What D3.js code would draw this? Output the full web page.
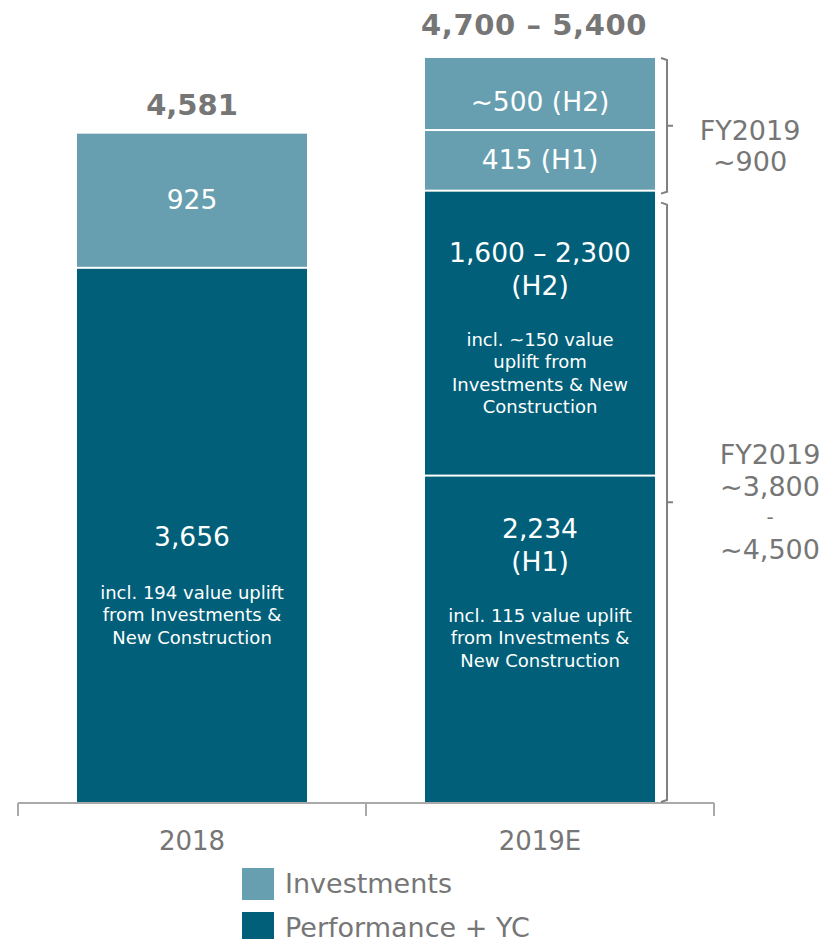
<!DOCTYPE html>
<html>
<head>
<meta charset="utf-8">
<script src="https://cdn.jsdelivr.net/npm/d3@7"></script>
<style>
  body { margin: 0; background: #fff; }
  svg { display: block; font-family: "DejaVu Sans", Verdana, sans-serif; }
</style>
</head>
<body>
<div id="chart"></div>
<script>
// Categories and stacked segments (bottom to top)
const years = ["2018", "2019E"];
const series = ["Investments", "Performance + YC"];

const segments2018 = [
  { key: "perf", value: 3656, label: ["3,656"], note: ["incl. 194 value uplift", "from Investments &", "New Construction"] },
  { key: "inv", value: 925, label: ["925"], note: [] }
];
const segments2019 = [
  { key: "perf", value: 2234, label: ["2,234", "(H1)"], note: ["incl. 115 value uplift", "from Investments &", "New Construction"] },
  { key: "perf", value: 1950, label: ["1,600 – 2,300", "(H2)"], note: ["incl. ~150 value", "uplift from", "Investments & New", "Construction"] },
  { key: "inv", value: 415, label: ["415 (H1)"], note: [] },
  { key: "inv", value: 500, label: ["~500 (H2)"], note: [] }
];
const totals = ["4,581", "4,700 – 5,400"];
const bracketLabels = [["FY2019", "~900"], ["FY2019", "~3,800", "-", "~4,500"]];

const colors = { inv: "#679fb0", perf: "#015f79" };
const grey = "#767676";

const width = 821, height = 939;
const svg = d3.select("#chart").append("svg")
  .attr("width", width)
  .attr("height", height);

const x = d3.scaleBand()
  .domain(years)
  .range([18, 714])
  .paddingInner(0.339)
  .paddingOuter(0.1695);

const y = d3.scaleLinear()
  .domain([0, 5400])
  .range([802, 13]);

// stack segments
function stack(segs) {
  let acc = 0;
  return segs.map(s => {
    const d = { ...s, y0: acc, y1: acc + s.value };
    acc += s.value;
    return d;
  });
}
const stacks = [stack(segments2018), stack(segments2019)];

// where the first label line sits inside each segment
function labelBaseline(d, top, bot) {
  if (d.note.length === 0) return (top + bot) / 2 + (d.value === 500 ? 17 : 9);
  if (d.value === 3656) return (top + bot) / 2 + 11;
  if (d.value === 1950) return top + 71;
  return top + 62;
}

stacks.forEach((segs, i) => {
  const year = years[i];
  const cx = x(year) + x.bandwidth() / 2;
  const g = svg.append("g");

  g.selectAll("rect")
    .data(segs)
    .join("rect")
    .attr("x", x(year))
    .attr("width", x.bandwidth())
    .attr("y", d => y(d.y1) + 1)
    .attr("height", d => y(d.y0) - y(d.y1) - (d.y0 === 0 ? 1 : 2))
    .attr("fill", d => colors[d.key]);

  segs.forEach(d => {
    const labelY = labelBaseline(d, y(d.y1), y(d.y0));
    d.label.forEach((t, j) => {
      g.append("text")
        .attr("x", cx)
        .attr("y", labelY + j * 33)
        .attr("text-anchor", "middle")
        .attr("fill", "#fff")
        .attr("font-size", 26.5)
        .text(t);
    });
    const noteStart = labelY + (d.label.length - 1) * 33 + (d.label.length > 1 ? 51 : 53);
    d.note.forEach((t, j) => {
      g.append("text")
        .attr("x", cx)
        .attr("y", noteStart + j * 22.5)
        .attr("text-anchor", "middle")
        .attr("fill", "#fff")
        .attr("font-size", 18)
        .text(t);
    });
  });

  // total label
  const total = d3.sum(segs, d => d.value);
  svg.append("text")
    .attr("x", cx - (i === 1 ? 6 : 0))
    .attr("y", y(total) - (i === 1 ? 22 : 18))
    .attr("text-anchor", "middle")
    .attr("fill", grey)
    .attr("font-weight", "bold")
    .attr("font-size", 29)
    .attr("letter-spacing", i === 1 ? 0.6 : 0)
    .text(totals[i]);
});

// Axis
const axis = svg.append("g")
  .attr("transform", `translate(0,${y(0)})`)
  .call(d3.axisBottom(x).tickSize(0).tickFormat(d => d));
axis.select(".domain").remove();
axis.selectAll("text")
  .attr("font-size", 26)
  .attr("font-family", "DejaVu Sans, sans-serif")
  .attr("fill", grey)
  .attr("dy", 0)
  .attr("y", 48);
const [r0, r1] = x.range();
const axisLine = svg.append("g").attr("stroke", "#a9a9a9").attr("stroke-width", 2).attr("fill", "none");
axisLine.append("line").attr("x1", r0).attr("x2", r1).attr("y1", y(0) + 1).attr("y2", y(0) + 1);
[r0, (r0 + r1) / 2, r1].forEach(t => {
  axisLine.append("line").attr("x1", t).attr("x2", t).attr("y1", y(0) + 1).attr("y2", y(0) + 14);
});

// Brackets for 2019E
const s19 = stacks[1];
const perfTop = s19[1].y1, stackTop = s19[3].y1;
const bx = x("2019E") + x.bandwidth();
function bracket(yTop, yBot) {
  const xm = bx + 12, hook = 6, tick = 6;
  const ym = (yTop + yBot) / 2;
  svg.append("path")
    .attr("d", `M${xm - hook},${yTop} L${xm},${yTop + 2} L${xm},${yBot - 2} L${xm - hook},${yBot}`
      + ` M${xm},${ym} L${xm + tick},${ym}`)
    .attr("fill", "none")
    .attr("stroke", "#808080")
    .attr("stroke-width", 2);
  return ym;
}
const m1 = bracket(y(stackTop) + 1, y(perfTop) + 3);
bracket(y(perfTop) + 12, y(0));

bracketLabels[0].forEach((t, j) => {
  svg.append("text")
    .attr("x", 750).attr("y", m1 + 14 + j * 31)
    .attr("text-anchor", "middle").attr("fill", grey).attr("font-size", 27)
    .text(t);
});
const lowerY = [464, 496, 524, 559];
bracketLabels[1].forEach((t, j) => {
  svg.append("text")
    .attr("x", 770).attr("y", lowerY[j])
    .attr("text-anchor", "middle").attr("fill", grey)
    .attr("font-size", j === 2 ? 20 : 27)
    .text(t);
});

// Legend
const legend = svg.append("g").attr("transform", "translate(242,868)");
const legendItems = [{ name: series[0], key: "inv" }, { name: series[1], key: "perf" }];
legendItems.forEach((d, i) => {
  legend.append("rect")
    .attr("x", 0).attr("y", i * 44)
    .attr("width", 32).attr("height", 32)
    .attr("fill", colors[d.key]);
  legend.append("text")
    .attr("x", 43).attr("y", i * 44 + 25)
    .attr("fill", grey).attr("font-size", 27)
    .text(d.name);
});
</script>
</body>
</html>
